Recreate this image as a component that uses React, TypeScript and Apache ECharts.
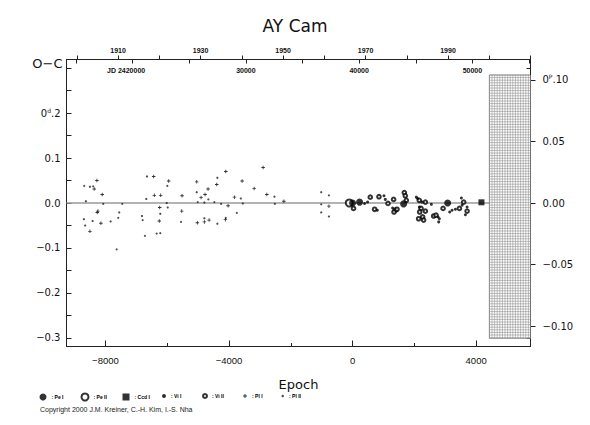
import React, { useEffect, useRef } from 'react';
import * as echarts from 'echarts';

// ---- axis ranges / ticks ----
const epochRange = [-9260, 5760];
const ocRange = [-0.319, 0.319];
const phaseRange = [-0.1166, 0.1166];
const yearRange = [1897.5, 2010];
const jdRange = [2414164, 2455128];

const epochMajorTicks = [-8000, -4000, 0, 4000];
const epochMinorTicks = [-6000, -2000, 2000];
const ocTicks = [-0.3, -0.25, -0.2, -0.15, -0.1, -0.05, 0, 0.05, 0.1, 0.15, 0.2, 0.25, 0.3];
const ocLabels = [-0.3, -0.2, -0.1, 0, 0.1, 0.2];
const phaseTicks = [-0.1, -0.05, 0, 0.05, 0.1];
const yearTicks = [1900, 1910, 1920, 1930, 1940, 1950, 1960, 1970, 1980, 1990, 2000, 2010];
const yearLabels = [1910, 1930, 1950, 1970, 1990];
const jdTicks = [2415000, 2420000, 2425000, 2430000, 2435000, 2440000, 2445000, 2450000, 2455000];
const jdLabels = [2420000, 2430000, 2440000, 2450000];

// future (after 2000) hatched region: epoch start, phase top/bottom
const hatchEpochStart = 4430;
const hatchPhase = [0.104, -0.11];

// ---- observations [epoch, O-C (days)] ----
const peI: [number, number][] = [[0, 0], [227, 0.002], [1653, -0.002], [3079, 0]];
const peII: [number, number][] = [[-107, 0]];
const ccdI: [number, number][] = [[4172, 0.0015]];
const viI: [number, number][] = [
  [389, -0.001], [486, 0.002], [801, -0.016], [1017, 0.016], [1060, 0.008], [1297, -0.011],
  [2065, 0.013], [2107, 0.01], [2250, 0.002], [2551, -0.003], [2162, -0.009], [2768, -0.031],
  [2810, -0.035], [2788, -0.042], [3144, -0.02], [3222, -0.016], [3329, -0.014], [3523, 0.011],
  [3546, -0.005], [3708, -0.009], [3653, -0.026],
];
const viII: [number, number][] = [
  [32, -0.012], [574, 0.013], [713, -0.014], [855, 0.014], [1147, -0.001], [1329, 0.008],
  [1384, -0.016], [1342, -0.02], [1439, -0.014], [1676, 0.023], [1708, 0.016], [1741, 0.006],
  [2160, 0.006], [2357, 0.002], [2217, -0.012], [2172, -0.02], [2357, -0.018], [2269, -0.031],
  [2139, -0.035], [2301, -0.038], [2626, -0.029], [2703, -0.027], [2930, -0.012], [3459, -0.012],
  [3598, 0.002], [3708, -0.018],
];
const plI: [number, number][] = [
  [-8363, 0.031], [-8276, 0.05], [-8104, 0.019], [-8243, -0.018], [-8265, -0.021], [-8146, -0.045],
  [-8502, -0.063], [-6438, 0.059], [-5952, 0.049], [-6418, 0.017], [-6211, 0.017], [-6243, -0.01],
  [-6256, -0.04], [-5520, 0.016], [-5044, 0.047], [-4904, 0.012], [-4775, 0.019], [-4678, 0.031],
  [-5530, -0.018], [-5024, -0.044], [-4797, -0.042], [-4645, -0.038], [-4397, 0.041], [-4104, 0.07],
  [-4029, -0.006], [-3825, 0.013], [-3575, 0.049], [-3186, 0.032], [-2895, 0.079], [-2775, 0.019],
  [-2224, 0.004], [-765, -0.007], [-4117, -0.037],
];
const plII: [number, number][] = [
  [-8687, 0.038], [-8502, 0.036], [-8395, 0.037], [-8632, 0.004], [-8071, -0.002], [-7455, -0.002],
  [-7553, -0.021], [-8697, -0.036], [-8415, -0.04], [-7832, -0.041], [-7585, -0.033], [-8655, -0.05],
  [-7637, -0.103], [-6655, 0.059], [-5997, 0.038], [-6677, 0.009], [-6016, 0], [-5984, -0.01],
  [-6224, -0.024], [-6817, -0.029], [-6794, -0.038], [-6340, -0.068], [-6224, -0.067], [-6720, -0.073],
  [-5044, 0.024], [-4668, 0.008], [-5012, 0.002], [-4797, 0.001], [-5553, -0.042], [-4797, -0.034],
  [-4473, 0.002], [-4376, 0.056], [-4256, -0.002], [-4376, -0.046], [-4104, -0.033], [-3617, 0.01],
  [-3553, -0.001], [-3747, -0.022], [-2528, 0.014], [-2515, -0.002], [-1015, 0.024], [-765, 0.017],
  [-1015, -0.003], [-1015, -0.021], [-765, -0.03],
];

const INK = '#111';
const FRAME = '#222';
const PLUS = 'path://M3,0h2v3h3v2h-3v3h-2v-3h-3v-2h3z';

const minus = (v: number, d: number) => (v < 0 ? '\u2212' : '') + Math.abs(v).toFixed(d);

function buildOption(): any {
  const smallBold = { fontSize: 7, fontWeight: 'bold', fontFamily: 'Liberation Sans, Arial, sans-serif', color: INK };
  const yLab = { fontSize: 10, fontFamily: 'DejaVu Sans, sans-serif', color: INK };
  const legendText = { fontSize: 5, fontWeight: 'bold', fontFamily: 'Liberation Sans, Arial, sans-serif', color: '#000', width: 20, lineHeight: 7 };
  const scatterBase = { type: 'scatter', xAxisIndex: 0, yAxisIndex: 0, silent: true };

  return {
    animation: false,
    backgroundColor: '#fff',
    title: [
      {
        text: 'AY Cam', left: 'center', top: 17, padding: [0, 0, 0, 12],
        textStyle: { fontSize: 17, fontWeight: 'normal', fontFamily: 'DejaVu Sans, sans-serif', color: INK },
      },
      {
        text: 'Copyright 2000 J.M. Kreiner, C.-H. Kim, I.-S. Nha', left: 40, top: 406, padding: 0,
        textStyle: { fontSize: 7, fontWeight: 'normal', fontFamily: 'Liberation Sans, Arial, sans-serif', color: '#222' },
      },
    ],
    legend: [
      {
        data: ['Pe I', 'Pe II', 'Ccd I'], left: 39.5, top: 392.5, padding: 0, itemWidth: 7, itemHeight: 7,
        itemGap: 9, formatter: (n: string) => ': ' + n, textStyle: legendText, selectedMode: false,
      },
      {
        data: ['Vi I', 'Vi II', 'Pl I'], left: 162, top: 392.5, padding: 0, itemWidth: 4, itemHeight: 4,
        itemGap: 11, formatter: (n: string) => ': ' + n, textStyle: legendText, selectedMode: false,
      },
      {
        data: ['Pl II'], left: 281.5, top: 392.5, padding: 0, itemWidth: 2.5, itemHeight: 2.5,
        itemGap: 10, formatter: (n: string) => ': ' + n, textStyle: legendText, selectedMode: false,
      },
    ],
    grid: { left: 66.5, right: 59.5, top: 59.5, bottom: 78.5, containLabel: false, outerBoundsMode: 'none' },
    xAxis: [
      {
        type: 'value', position: 'bottom', min: epochRange[0], max: epochRange[1],
        axisLine: { show: true, onZero: false, lineStyle: { color: FRAME, width: 1 } },
        axisTick: { show: true, inside: true, length: 6, customValues: epochMajorTicks, lineStyle: { color: FRAME } },
        axisLabel: { customValues: epochMajorTicks, formatter: (v: number) => minus(v, 0), margin: 9, fontSize: 9.5, fontFamily: 'Liberation Sans, Arial, sans-serif', color: INK },
        splitLine: { show: false },
        name: 'Epoch', nameLocation: 'middle', nameGap: 31,
        nameTextStyle: { fontSize: 13, fontFamily: 'DejaVu Sans, sans-serif', color: INK },
      },
      {
        type: 'value', position: 'bottom', min: epochRange[0], max: epochRange[1],
        axisLine: { show: false, onZero: false },
        axisTick: { show: true, inside: true, length: 3.5, customValues: epochMinorTicks, lineStyle: { color: FRAME } },
        axisLabel: { show: false }, splitLine: { show: false },
      },
      {
        type: 'value', position: 'top', min: yearRange[0], max: yearRange[1],
        axisLine: { show: true, onZero: false, lineStyle: { color: FRAME, width: 1 } },
        axisTick: { show: true, inside: false, length: 4, customValues: yearTicks, lineStyle: { color: FRAME } },
        axisLabel: { customValues: yearLabels, formatter: (v: number) => String(v), margin: 6, ...smallBold },
        splitLine: { show: false },
      },
      {
        type: 'value', position: 'top', min: jdRange[0], max: jdRange[1],
        axisLine: { show: false, onZero: false },
        axisTick: { show: true, inside: true, length: 4, customValues: jdTicks, lineStyle: { color: FRAME } },
        axisLabel: {
          inside: true, customValues: jdLabels, margin: 7, ...smallBold,
          formatter: (v: number) => (v === jdLabels[0] ? '{jd|JD ' + v + '}' : String(v - 2400000)),
          rich: { jd: { ...smallBold, padding: [0, 13, 0, 0] } },
        },
        splitLine: { show: false },
      },
    ],
    yAxis: [
      {
        type: 'value', position: 'left', min: ocRange[0], max: ocRange[1],
        axisLine: { show: true, onZero: false, lineStyle: { color: FRAME, width: 1 } },
        axisTick: { show: true, inside: true, length: 5, customValues: ocTicks, lineStyle: { color: FRAME } },
        axisLabel: {
          customValues: ocLabels, margin: 6, ...yLab,
          formatter: (v: number) => (Math.abs(v - 0.2) < 1e-9 ? '0{s|d}.2' : minus(v, 1)),
          rich: { s: { fontSize: 6, fontFamily: 'DejaVu Sans, sans-serif', color: INK, verticalAlign: 'top', padding: [0, 0, 6, 0] } },
        },
        splitLine: { show: false },
        name: 'O\u2212C', nameLocation: 'end', nameGap: -4,
        nameTextStyle: { fontSize: 13, fontFamily: 'DejaVu Sans, sans-serif', color: INK, align: 'right', verticalAlign: 'middle', padding: [0, 4, 0, 0] },
      },
      {
        type: 'value', position: 'right', min: phaseRange[0], max: phaseRange[1],
        axisLine: { show: true, onZero: false, lineStyle: { color: FRAME, width: 1 } },
        axisTick: { show: true, inside: false, length: 5, customValues: phaseTicks, lineStyle: { color: FRAME } },
        axisLabel: {
          customValues: phaseTicks, margin: 12, ...yLab,
          formatter: (v: number) => (Math.abs(v - 0.1) < 1e-9 ? '0{s|P}.10' : minus(v, 2)),
          rich: { s: { fontSize: 6, fontFamily: 'DejaVu Sans, sans-serif', color: INK, verticalAlign: 'top', padding: [0, 0, 6, 0] } },
        },
        splitLine: { show: false },
      },
      {
        type: 'value', position: 'right', min: ocRange[0], max: ocRange[1],
        axisLine: { show: false, onZero: false },
        axisTick: { show: true, inside: true, length: 4, customValues: ocTicks, lineStyle: { color: FRAME } },
        axisLabel: { show: false }, splitLine: { show: false },
      },
    ],
    series: [
      {
        ...scatterBase, name: 'Pl II', data: plII, symbol: 'circle', symbolSize: 2.2,
        itemStyle: { color: '#222' },
        markLine: {
          silent: true, symbol: 'none', z: 1, label: { show: false },
          lineStyle: { color: '#9a9a9a', width: 1.5, type: 'solid' },
          data: [{ yAxis: 0 }],
        },
      },
      { ...scatterBase, name: 'Pl I', data: plI, symbol: PLUS, symbolSize: 3.5, itemStyle: { color: '#000' } },
      { ...scatterBase, name: 'Vi II', data: viII, symbol: 'emptyCircle', symbolSize: 3.6, itemStyle: { color: '#000', borderWidth: 0.7 } },
      { ...scatterBase, name: 'Vi I', data: viI, symbol: 'circle', symbolSize: 3, itemStyle: { color: '#000' } },
      { ...scatterBase, name: 'Pe II', data: peII, symbol: 'emptyCircle', symbolSize: 7, itemStyle: { color: '#000', borderWidth: 0.8 } },
      { ...scatterBase, name: 'Pe I', data: peI, symbol: 'circle', symbolSize: 7, itemStyle: { color: '#000' } },
      { ...scatterBase, name: 'Ccd I', data: ccdI, symbol: 'rect', symbolSize: 6, itemStyle: { color: '#000' } },
      {
        type: 'custom', name: 'future', xAxisIndex: 0, yAxisIndex: 1, silent: true, z: 3,
        data: [[hatchEpochStart, hatchPhase[0], epochRange[1], hatchPhase[1]]],
        encode: { x: [0, 2], y: [1, 3] },
        renderItem: (_params: any, api: any) => {
          const p1 = api.coord([api.value(0), api.value(1)]);
          const p2 = api.coord([api.value(2), api.value(3)]);
          const children: any[] = [
            { type: 'rect', shape: { x: p1[0], y: p1[1], width: p2[0] - p1[0], height: p2[1] - p1[1] }, style: { fill: '#fff', stroke: '#555', lineWidth: 0.6 } },
          ];
          for (let x = p1[0]; x <= p2[0] + 0.01; x += 2.6) {
            children.push({ type: 'line', shape: { x1: x, y1: p1[1], x2: x, y2: p2[1] }, style: { stroke: '#8a8a8a', lineWidth: 0.55 } });
          }
          for (let y = p1[1]; y <= p2[1] + 0.01; y += 2.6) {
            children.push({ type: 'line', shape: { x1: p1[0], y1: y, x2: p2[0], y2: y }, style: { stroke: '#8a8a8a', lineWidth: 0.55 } });
          }
          return { type: 'group', children };
        },
      },
    ],
  };
}

export default function App() {
  const ref = useRef<HTMLDivElement>(null);
  useEffect(() => {
    document.body.style.margin = '0';
    const chart = echarts.init(ref.current as HTMLDivElement, null, { renderer: 'svg' });
    chart.setOption(buildOption());
    return () => chart.dispose();
  }, []);
  return <div ref={ref} style={{ width: 590, height: 425, background: '#fff' }} />;
}
